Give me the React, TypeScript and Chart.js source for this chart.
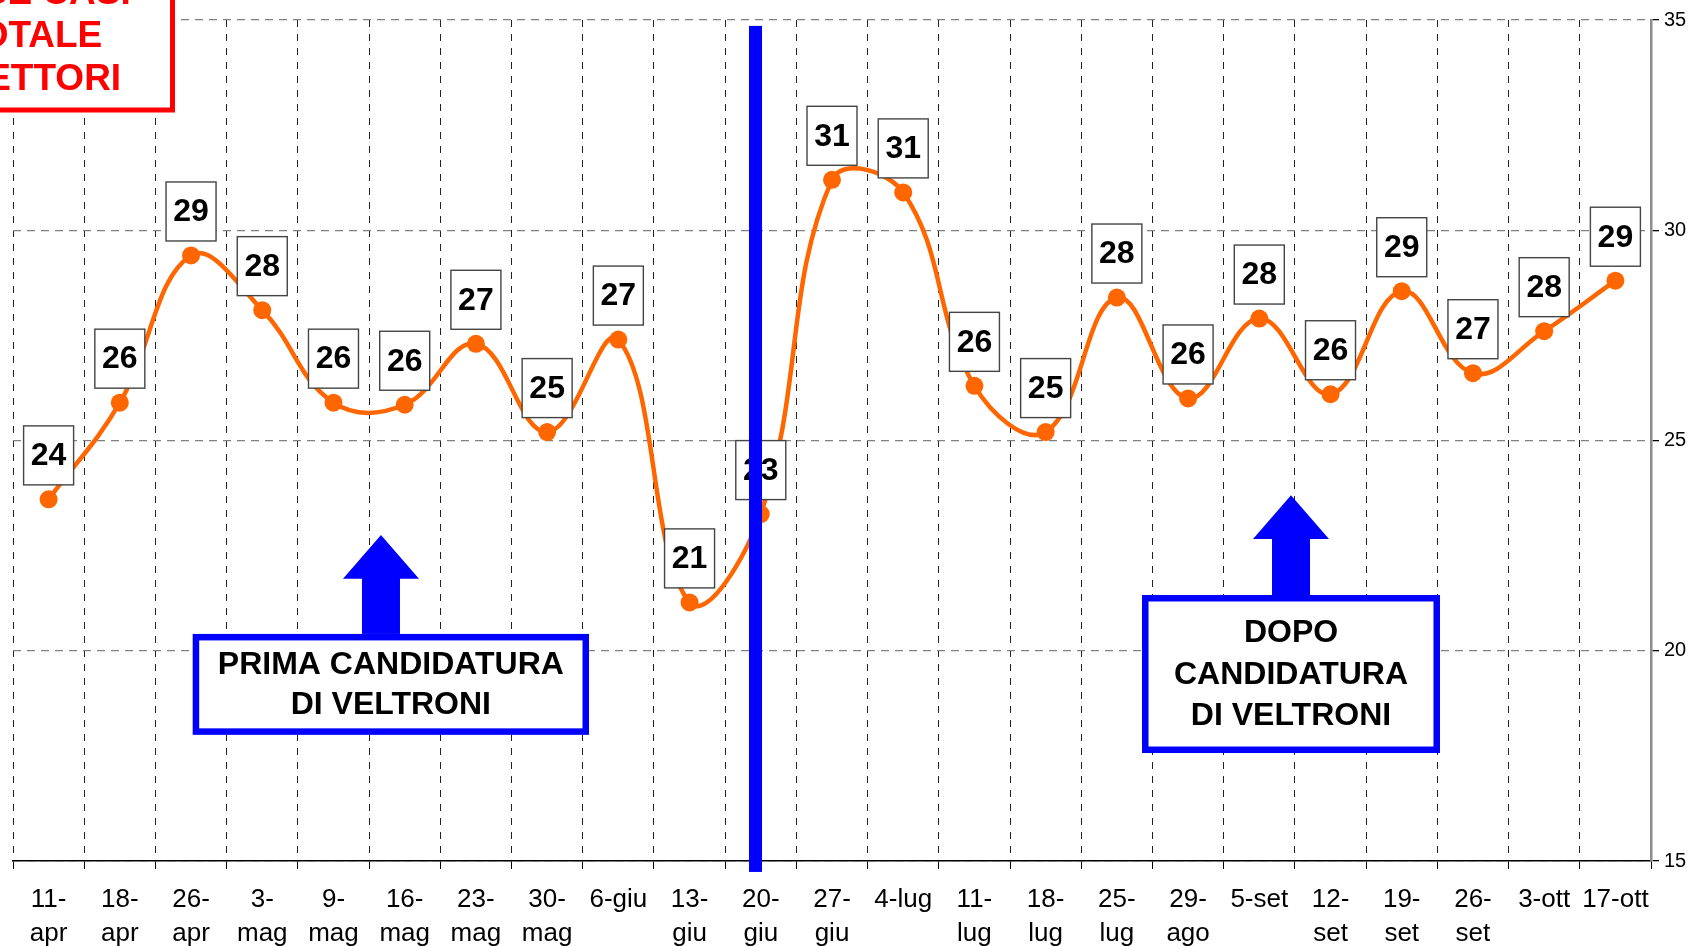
import React, { useEffect, useRef } from "react";
import { Chart, registerables } from "chart.js";

Chart.register(...registerables);

// ---------- data ----------
const categories: (string | string[])[] = [
  ["11-", "apr"], ["18-", "apr"], ["26-", "apr"], ["3-", "mag"], ["9-", "mag"],
  ["16-", "mag"], ["23-", "mag"], ["30-", "mag"], "6-giu", ["13-", "giu"],
  ["20-", "giu"], ["27-", "giu"], "4-lug", ["11-", "lug"], ["18-", "lug"],
  ["25-", "lug"], ["29-", "ago"], "5-set", ["12-", "set"], ["19-", "set"],
  ["26-", "set"], "3-ott", "17-ott",
];
const values = [
  23.6, 25.9, 29.4, 28.1, 25.9, 25.85, 27.3, 25.2, 27.4, 21.15,
  23.25, 31.2, 30.9, 26.3, 25.2, 28.4, 26.0, 27.9, 26.1, 28.55,
  26.6, 27.6, 28.8,
];
const valueLabels = [
  "24", "26", "29", "28", "26", "26", "27", "25", "27", "21",
  "23", "31", "31", "26", "25", "28", "26", "28", "26", "29",
  "27", "28", "29",
];
const yTicks = [15, 20, 25, 30, 35];
const titleLines = ["BASE CASI", "TOTALE", "ELETTORI"];
const beforeLines = ["PRIMA CANDIDATURA", "DI VELTRONI"];
const afterLines = ["DOPO", "CANDIDATURA", "DI VELTRONI"];

// annotation anchors in data units (category index / axis value)
const candidacyLine = { index: 9.926, top: 34.86, bottom: 14.74 };
const beforeNote = { left: 2.023, right: 7.588, top: 20.4, bottom: 18.0, arrowIndex: 4.667, tip: 22.75, base: 21.71, gap: 40 };
const afterNote = { left: 15.353, right: 19.537, top: 21.326, bottom: 17.568, arrowIndex: 17.445, tip: 23.7, base: 22.66, gap: 41.5 };

const ORANGE = "#FF6600";
const BLUE = "#0000FF";
const SANS = "'Liberation Sans', Arial, Helvetica, sans-serif";

function drawNote(ctx: CanvasRenderingContext2D, chart: any, n: any, lines: string[]) {
  const xs = chart.scales.x;
  const ys = chart.scales.y;
  const l = xs.getPixelForValue(n.left);
  const r = xs.getPixelForValue(n.right);
  const t = ys.getPixelForValue(n.top);
  const b = ys.getPixelForValue(n.bottom);
  const ax = xs.getPixelForValue(n.arrowIndex);
  const tip = ys.getPixelForValue(n.tip);
  const base = ys.getPixelForValue(n.base);
  const head = 38;
  const shaft = 19;
  ctx.fillStyle = BLUE;
  ctx.beginPath();
  ctx.moveTo(ax, tip);
  ctx.lineTo(ax + head, base);
  ctx.lineTo(ax + shaft, base);
  ctx.lineTo(ax + shaft, t + 2);
  ctx.lineTo(ax - shaft, t + 2);
  ctx.lineTo(ax - shaft, base);
  ctx.lineTo(ax - head, base);
  ctx.closePath();
  ctx.fill();

  const bw = 6.5;
  ctx.fillStyle = "#FFFFFF";
  ctx.fillRect(l, t, r - l, b - t);
  ctx.strokeStyle = BLUE;
  ctx.lineWidth = bw;
  ctx.strokeRect(l + bw / 2, t + bw / 2, r - l - bw, b - t - bw);

  ctx.fillStyle = "#000000";
  ctx.font = `bold 32px ${SANS}`;
  ctx.textAlign = "center";
  ctx.textBaseline = "middle";
  const cx = (l + r) / 2;
  const cy = (t + b) / 2;
  const start = cy - ((lines.length - 1) * n.gap) / 2;
  lines.forEach((s, i) => ctx.fillText(s, cx, start + i * n.gap + 1));
}

const overlayPlugin = {
  id: "overlay",
  afterDatasetsDraw(chart: any) {
    const ctx: CanvasRenderingContext2D = chart.ctx;
    const xs = chart.scales.x;
    const ys = chart.scales.y;
    const meta = chart.getDatasetMeta(0);
    ctx.save();

    // value labels
    meta.data.forEach((pt: any, i: number) => {
      const w = 50;
      const h = 59;
      const cx = pt.x;
      const cy = pt.y - 44;
      ctx.fillStyle = "#FFFFFF";
      ctx.fillRect(cx - w / 2, cy - h / 2, w, h);
      ctx.strokeStyle = "#444444";
      ctx.lineWidth = 1.4;
      ctx.strokeRect(cx - w / 2, cy - h / 2, w, h);
      ctx.fillStyle = "#000000";
      ctx.font = `bold 32px ${SANS}`;
      ctx.textAlign = "center";
      ctx.textBaseline = "middle";
      ctx.fillText(valueLabels[i], cx, cy + 1);
    });

    // vertical candidacy line
    const lx = xs.getPixelForValue(candidacyLine.index);
    const lt = ys.getPixelForValue(candidacyLine.top);
    const lb = ys.getPixelForValue(candidacyLine.bottom);
    ctx.fillStyle = BLUE;
    ctx.fillRect(lx - 6.5, lt, 13, lb - lt);

    // notes
    drawNote(ctx, chart, beforeNote, beforeLines);
    drawNote(ctx, chart, afterNote, afterLines);

    // title box (clipped at top-left)
    ctx.fillStyle = "#FFFFFF";
    ctx.fillRect(-20, -20, 192.5, 130);
    ctx.strokeStyle = "#FF0000";
    ctx.lineWidth = 5;
    ctx.strokeRect(-20, -20, 192.5, 130);
    ctx.fillStyle = "#FF0000";
    ctx.font = `bold 37px ${SANS}`;
    ctx.textAlign = "center";
    ctx.textBaseline = "alphabetic";
    titleLines.forEach((s, i) => ctx.fillText(s, 30, 4 + i * 43));

    ctx.restore();
  },
};

export default function App() {
  const ref = useRef<HTMLCanvasElement | null>(null);
  useEffect(() => {
    document.body.style.margin = "0";
    const canvas = ref.current;
    if (!canvas) return;
    const chart = new Chart(canvas, {
      type: "line",
      data: {
        labels: categories as any,
        datasets: [
          {
            data: values,
            borderColor: ORANGE,
            backgroundColor: ORANGE,
            borderWidth: 4.5,
            tension: 0.4,
            pointRadius: 9,
            pointBackgroundColor: ORANGE,
            pointBorderColor: ORANGE,
            pointBorderWidth: 0,
            fill: false,
            clip: false as any,
          },
        ],
      },
      options: {
        animation: false,
        responsive: false,
        devicePixelRatio: 1,
        events: [],
        layout: { padding: { left: 13, top: 20, right: 0, bottom: 0 } },
        plugins: {
          legend: { display: false },
          tooltip: { enabled: false },
          title: { display: false },
        },
        scales: {
          x: {
            type: "category",
            offset: true,
            grid: {
              offset: true,
              color: "#222222",
              lineWidth: 1,
              tickLength: 8,
              tickColor: "#000000",
              tickBorderDash: [],
            } as any,
            border: { display: true, color: "#000000", width: 1.5, dash: [7, 7] } as any,
            ticks: {
              color: "#000000",
              font: { family: SANS, size: 26, lineHeight: 1.29 },
              padding: 14.5,
              maxRotation: 0,
              minRotation: 0,
              autoSkip: false,
            },
            afterFit: (s: any) => {
              s.height = 85;
            },
          },
          y: {
            position: "right",
            min: 15,
            max: 35,
            afterBuildTicks: (s: any) => {
              s.ticks = yTicks.map((v) => ({ value: v }));
            },
            grid: {
              color: "#808080",
              lineWidth: 1.3,
              tickLength: 8,
              tickColor: "#000000",
              tickBorderDash: [],
            } as any,
            border: { display: true, color: "#8C8C8C", width: 2.5, dash: [8, 6] } as any,
            ticks: {
              color: "#000000",
              font: { family: SANS, size: 20 },
              padding: 5,
            },
            afterFit: (s: any) => {
              s.width = 37;
            },
          },
        },
      },
      plugins: [overlayPlugin],
    });
    return () => chart.destroy();
  }, []);
  return (
    <div style={{ width: 1688, height: 946 }}>
      <canvas ref={ref} width={1688} height={946} style={{ display: "block" }} />
    </div>
  );
}
